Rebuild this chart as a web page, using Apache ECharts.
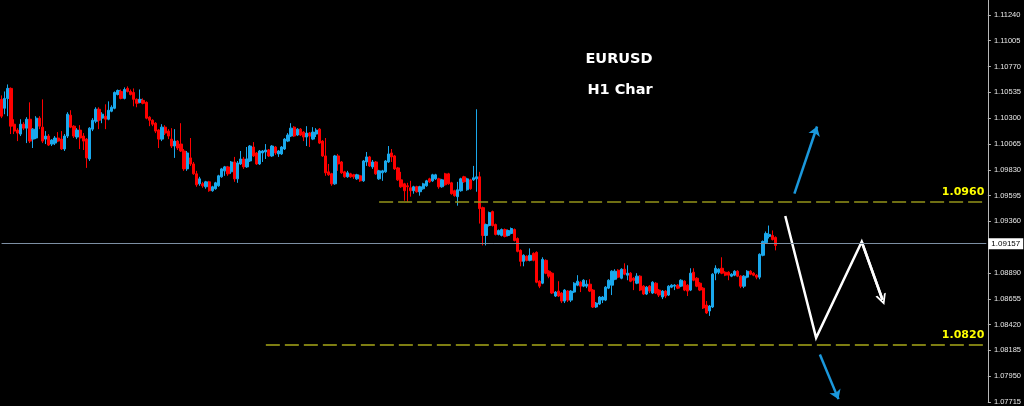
<!DOCTYPE html>
<html><head><meta charset="utf-8">
<script src="https://cdn.jsdelivr.net/npm/echarts/dist/echarts.min.js"></script>
<style>html,body{margin:0;padding:0;background:#000;}#c{width:1024px;height:406px;}</style>
</head><body><div id="c"></div>
<script>
// ---- data (EURUSD H1) ----
const open = [
1.10471,1.10390,1.10480,1.10571,1.10245,1.10191,1.10155,1.10245,1.10209,1.10290,
1.10109,1.10119,1.10300,1.10218,1.10109,1.10137,1.10064,1.10073,1.10119,1.10109,
1.10019,1.10137,1.10327,1.10227,1.10128,1.10191,1.10137,1.10109,1.09928,1.10200,
1.10272,1.10381,1.10300,1.10318,1.10290,1.10363,1.10390,1.10516,1.10543,1.10480,
1.10571,1.10543,1.10534,1.10471,1.10444,1.10462,1.10444,1.10309,1.10281,1.10254,
1.10191,1.10109,1.10218,1.10182,1.10109,1.10046,1.10091,1.10064,1.10001,1.09838,
1.09938,1.09883,1.09793,1.09702,1.09702,1.09675,1.09720,1.09639,1.09657,1.09684,
1.09766,1.09820,1.09856,1.09811,1.09901,1.09747,1.09883,1.09928,1.09856,1.09910,
1.10037,1.09983,1.09883,1.09983,1.09992,1.10010,1.09956,1.10037,1.09974,1.09974,
1.10019,1.10091,1.10137,1.10218,1.10146,1.10200,1.10173,1.10128,1.10164,1.10109,
1.10155,1.10200,1.10091,1.09956,1.09811,1.09793,1.09702,1.09956,1.09901,1.09811,
1.09766,1.09793,1.09784,1.09747,1.09775,1.09729,1.09901,1.09947,1.09856,1.09901,
1.09747,1.09802,1.09811,1.09901,1.09983,1.09956,1.09847,1.09738,1.09702,1.09684,
1.09666,1.09639,1.09675,1.09630,1.09657,1.09684,1.09747,1.09729,1.09747,1.09747,
1.09675,1.09793,1.09793,1.09711,1.09639,1.09585,1.09639,1.09766,1.09648,1.09738,
1.09738,1.09747,1.09766,1.09485,1.09232,1.09322,1.09449,1.09331,1.09241,1.09232,
1.09286,1.09232,1.09250,1.09286,1.09204,1.09096,1.08996,1.09042,1.09005,1.09069,
1.09078,1.08815,1.08797,1.09005,1.08906,1.08888,1.08680,1.08725,1.08707,1.08634,
1.08725,1.08643,1.08716,1.08779,1.08806,1.08770,1.08770,1.08788,1.08734,1.08580,
1.08607,1.08643,1.08643,1.08752,1.08779,1.08833,1.08915,1.08842,1.08924,1.08870,
1.08888,1.08842,1.08797,1.08861,1.08770,1.08698,1.08770,1.08707,1.08797,1.08734,
1.08671,1.08725,1.08689,1.08761,1.08770,1.08779,1.08770,1.08815,1.08779,1.08734,
1.08897,1.08842,1.08797,1.08752,1.08598,1.08544,1.08580,1.08888,1.08897,1.08933,
1.08897,1.08897,1.08861,1.08870,1.08906,1.08861,1.08770,1.08852,1.08906,1.08888,
1.08870,1.08852,1.09051,1.09168,1.09223,1.09232,1.09214];
const close = [
1.10318,1.10480,1.10571,1.10227,1.10182,1.10164,1.10245,1.10209,1.10290,1.10091,
1.10200,1.10300,1.10227,1.10091,1.10137,1.10055,1.10100,1.10119,1.10091,1.10019,
1.10137,1.10336,1.10218,1.10137,1.10191,1.10119,1.10091,1.09938,1.10209,1.10281,
1.10381,1.10281,1.10336,1.10290,1.10372,1.10399,1.10534,1.10552,1.10480,1.10561,
1.10543,1.10516,1.10471,1.10435,1.10471,1.10435,1.10300,1.10281,1.10245,1.10182,
1.10109,1.10218,1.10164,1.10137,1.10046,1.10091,1.10028,1.10001,1.09838,1.09983,
1.09883,1.09793,1.09693,1.09747,1.09684,1.09720,1.09639,1.09675,1.09711,1.09775,
1.09838,1.09856,1.09793,1.09901,1.09747,1.09892,1.09928,1.09856,1.09928,1.10046,
1.09956,1.09883,1.10001,1.10001,1.10010,1.09956,1.10046,1.09983,1.10001,1.10037,
1.10109,1.10146,1.10209,1.10137,1.10200,1.10146,1.10128,1.10164,1.10137,1.10173,
1.10191,1.10073,1.09956,1.09802,1.09784,1.09702,1.09956,1.09883,1.09802,1.09766,
1.09802,1.09766,1.09766,1.09784,1.09729,1.09910,1.09947,1.09865,1.09901,1.09793,
1.09820,1.09820,1.09910,1.09974,1.09947,1.09838,1.09738,1.09675,1.09639,1.09675,
1.09639,1.09675,1.09630,1.09675,1.09702,1.09729,1.09720,1.09784,1.09784,1.09675,
1.09738,1.09693,1.09702,1.09612,1.09594,1.09648,1.09747,1.09720,1.09747,1.09657,
1.09757,1.09766,1.09476,1.09232,1.09331,1.09440,1.09322,1.09241,1.09277,1.09286,
1.09223,1.09277,1.09295,1.09186,1.09087,1.08996,1.09051,1.09005,1.09051,1.09005,
1.08806,1.08770,1.09014,1.08888,1.08861,1.08707,1.08716,1.08680,1.08634,1.08734,
1.08643,1.08725,1.08797,1.08815,1.08770,1.08824,1.08788,1.08725,1.08580,1.08616,
1.08671,1.08671,1.08761,1.08824,1.08906,1.08906,1.08852,1.08924,1.08879,1.08888,
1.08815,1.08824,1.08861,1.08734,1.08698,1.08761,1.08725,1.08806,1.08707,1.08689,
1.08725,1.08680,1.08770,1.08779,1.08779,1.08752,1.08824,1.08734,1.08725,1.08888,
1.08824,1.08770,1.08734,1.08571,1.08526,1.08589,1.08879,1.08933,1.08924,1.08888,
1.08870,1.08870,1.08879,1.08906,1.08861,1.08770,1.08861,1.08906,1.08879,1.08870,
1.08852,1.09060,1.09177,1.09250,1.09241,1.09195,1.09141];
const low = [
1.10300,1.10336,1.10318,1.10155,1.10155,1.10091,1.10137,1.10191,1.10073,1.10073,
1.10028,1.10109,1.10200,1.10073,1.10064,1.10046,1.10046,1.10055,1.10082,1.10010,
1.10001,1.10119,1.10209,1.10119,1.10109,1.10019,1.10010,1.09847,1.09910,1.10182,
1.10254,1.10200,1.10254,1.10200,1.10281,1.10354,1.10381,1.10507,1.10471,1.10471,
1.10534,1.10507,1.10408,1.10399,1.10435,1.10426,1.10290,1.10227,1.10227,1.10164,
1.10028,1.10091,1.10146,1.10109,1.10028,1.09938,1.10010,1.09992,1.09820,1.09820,
1.09865,1.09784,1.09675,1.09684,1.09666,1.09657,1.09630,1.09630,1.09648,1.09675,
1.09757,1.09775,1.09775,1.09793,1.09720,1.09711,1.09874,1.09838,1.09847,1.09901,
1.09947,1.09874,1.09874,1.09901,1.09928,1.09947,1.09947,1.09965,1.09947,1.09965,
1.10010,1.10082,1.10128,1.10128,1.10137,1.10137,1.10091,1.10046,1.10037,1.10100,
1.10128,1.10064,1.09947,1.09775,1.09775,1.09684,1.09693,1.09820,1.09793,1.09757,
1.09757,1.09757,1.09747,1.09738,1.09720,1.09720,1.09865,1.09856,1.09838,1.09784,
1.09738,1.09729,1.09802,1.09892,1.09901,1.09829,1.09729,1.09666,1.09548,1.09539,
1.09585,1.09612,1.09621,1.09594,1.09648,1.09675,1.09711,1.09720,1.09738,1.09657,
1.09666,1.09684,1.09693,1.09603,1.09585,1.09503,1.09630,1.09711,1.09639,1.09648,
1.09729,1.09630,1.09340,1.09141,1.09141,1.09313,1.09313,1.09232,1.09232,1.09223,
1.09214,1.09223,1.09241,1.09177,1.09078,1.08951,1.08951,1.08996,1.08996,1.08996,
1.08797,1.08752,1.08788,1.08879,1.08842,1.08698,1.08671,1.08671,1.08616,1.08616,
1.08625,1.08625,1.08707,1.08770,1.08716,1.08761,1.08752,1.08716,1.08571,1.08571,
1.08598,1.08616,1.08634,1.08743,1.08689,1.08824,1.08842,1.08833,1.08870,1.08824,
1.08806,1.08734,1.08788,1.08725,1.08689,1.08689,1.08707,1.08698,1.08698,1.08671,
1.08652,1.08661,1.08680,1.08752,1.08734,1.08743,1.08761,1.08725,1.08680,1.08725,
1.08815,1.08761,1.08725,1.08562,1.08517,1.08499,1.08571,1.08824,1.08879,1.08879,
1.08861,1.08824,1.08852,1.08861,1.08852,1.08752,1.08752,1.08842,1.08870,1.08861,
1.08833,1.08833,1.09042,1.09159,1.09204,1.09186,1.09096];
const high = [
1.10507,1.10543,1.10607,1.10580,1.10290,1.10209,1.10290,1.10263,1.10309,1.10444,
1.10209,1.10318,1.10318,1.10471,1.10182,1.10155,1.10109,1.10137,1.10173,1.10182,
1.10155,1.10354,1.10372,1.10236,1.10209,1.10236,1.10164,1.10119,1.10218,1.10300,
1.10399,1.10399,1.10354,1.10426,1.10453,1.10417,1.10543,1.10561,1.10561,1.10580,
1.10589,1.10561,1.10571,1.10480,1.10561,1.10480,1.10453,1.10318,1.10290,1.10263,
1.10200,1.10245,1.10236,1.10200,1.10209,1.10200,1.10100,1.10254,1.10019,1.10001,
1.10119,1.09901,1.09820,1.09766,1.09720,1.09729,1.09729,1.09684,1.09720,1.09784,
1.09847,1.09865,1.09865,1.09910,1.09947,1.09910,1.10001,1.09947,1.10037,1.10055,
1.10082,1.09992,1.10010,1.10010,1.10064,1.10019,1.10055,1.10046,1.10010,1.10046,
1.10119,1.10164,1.10254,1.10227,1.10209,1.10209,1.10182,1.10227,1.10173,1.10218,
1.10209,1.10209,1.10100,1.10119,1.09883,1.09802,1.09965,1.09974,1.09910,1.09820,
1.09820,1.09802,1.09793,1.09793,1.09784,1.09919,1.09992,1.09956,1.09919,1.09910,
1.09829,1.09829,1.09919,1.10046,1.10019,1.09965,1.09856,1.09811,1.09711,1.09711,
1.09729,1.09684,1.09684,1.09684,1.09711,1.09738,1.09757,1.09793,1.09793,1.09757,
1.09747,1.09802,1.09802,1.09720,1.09648,1.09720,1.09757,1.09775,1.09757,1.09747,
1.09865,1.10381,1.09811,1.09494,1.09340,1.09449,1.09458,1.09340,1.09286,1.09295,
1.09295,1.09286,1.09304,1.09295,1.09214,1.09105,1.09060,1.09051,1.09114,1.09078,
1.09087,1.08824,1.09033,1.09014,1.08915,1.08897,1.08725,1.08815,1.08716,1.08743,
1.08734,1.08734,1.08806,1.08870,1.08815,1.08833,1.08824,1.08833,1.08743,1.08625,
1.08680,1.08680,1.08770,1.08833,1.08915,1.08924,1.08924,1.08933,1.08978,1.08960,
1.08897,1.08852,1.08888,1.08870,1.08779,1.08770,1.08779,1.08815,1.08806,1.08743,
1.08734,1.08734,1.08779,1.08788,1.08788,1.08788,1.08833,1.08824,1.08788,1.08933,
1.08933,1.08852,1.08806,1.08761,1.08634,1.08598,1.08888,1.08960,1.08933,1.09033,
1.08906,1.08906,1.08888,1.08915,1.08915,1.08870,1.08870,1.08915,1.08915,1.08897,
1.08879,1.09069,1.09186,1.09268,1.09322,1.09277,1.09223];

const totalSlots = 314;            // bars shown plus empty future space on the chart
const tickLabels = ['1.11240','1.11005','1.10770','1.10535','1.10300','1.10065','1.09830',
  '1.09595','1.09360','1.08890','1.08655','1.08420','1.08185','1.07950','1.07715'];
const lastPrice = 1.09157;
const levelValues = [1.09542, 1.08236];
const levelLabels = ['1.0960', '1.0820'];
const levelStartBar = [120, 84];
const titleLines = ['EURUSD', 'H1 Char'];
// drawn scenario arrows: [bar position, price]
const arrowUp = [[252.0, 1.09612], [259.2, 1.10224]];
const arrowDown = [[260.1, 1.08148], [266.0, 1.07741]];
const zigzag = [[249.1, 1.09409], [258.9, 1.08299], [273.4, 1.09174], [280.0, 1.08646]];

// ---- build ----
const categories = Array.from({length: totalSlots}, (_, i) => String(i + 1));
const candles = open.map((o, i) => [o, close[i], low[i], high[i]]);
const tickValues = tickLabels.map(Number);
const chevron = 'path://M0,10 L5,0 L10,10 L8.2,10 L5,3.6 L1.8,10 Z';

const chart = echarts.init(document.getElementById('c'), null, {renderer: 'canvas'});
const levelLine = (k, color) => [
  {coord: [levelStartBar[k], levelValues[k]],
   lineStyle: {color: color, type: [14, 5], width: 1.6},
   label: {show: true, position: 'insideEndTop', formatter: levelLabels[k], color: '#ffff00',
     fontWeight: 'bold', fontSize: 11, fontFamily: 'DejaVu Sans', distance: [2, 4]}},
  {coord: [totalSlots - 1, levelValues[k]]}
];
chart.setOption({
  animation: false,
  backgroundColor: '#000000',
  grid: {left: -1.3, top: 0, width: 990.4, bottom: 0, containLabel: false},
  xAxis: [
    {type: 'category', data: categories, show: false, boundaryGap: true},
    {type: 'value', min: -0.5, max: totalSlots - 0.5, show: false}
  ],
  yAxis: {
    type: 'value', position: 'right', min: 1.0771, max: 1.11376,
    axisLine: {show: true, onZero: false, lineStyle: {color: '#b8b8b8', width: 1}},
    axisTick: {show: true, length: 3, customValues: tickValues, lineStyle: {color: '#b8b8b8'}},
    axisLabel: {customValues: tickValues, formatter: v => v.toFixed(5), color: '#e8e8e8',
      fontSize: 7.5, fontFamily: 'Liberation Sans', margin: 6},
    splitLine: {show: false}
  },
  graphic: [
    {type: 'text', x: 619, y: 59, style: {text: titleLines[0], align: 'center', verticalAlign: 'middle',
      fill: '#ffffff', font: 'bold 14.5px "DejaVu Sans"'}},
    {type: 'text', x: 620, y: 90, style: {text: titleLines[1], align: 'center', verticalAlign: 'middle',
      fill: '#ffffff', font: 'bold 14.5px "DejaVu Sans"'}}
  ],
  series: [
    {
      type: 'candlestick', xAxisIndex: 0, yAxisIndex: 0, data: candles,
      barWidth: 2.8,
      itemStyle: {color: '#1aa8ec', color0: '#ff0000', borderColor: '#1aa8ec', borderColor0: '#ff0000', borderWidth: 1},
      markLine: {
        silent: true, symbol: ['none', 'none'], animation: false,
        data: [
          [{coord: [0, lastPrice], lineStyle: {color: '#7d8fa3', type: 'solid', width: 1},
            label: {show: true, position: 'end', formatter: lastPrice.toFixed(5), backgroundColor: '#ffffff',
              color: '#000000', fontSize: 8, fontFamily: 'Liberation Sans', padding: [2, 3, 1, 3], distance: 2}},
           {coord: [totalSlots - 1, lastPrice]}],
          levelLine(0, '#94941a'),
          levelLine(1, '#a8a818')
        ]
      }
    },
    {
      type: 'lines', coordinateSystem: 'cartesian2d', xAxisIndex: 1, yAxisIndex: 0,
      symbol: ['none', 'arrow'], symbolSize: [0, 9],
      lineStyle: {color: '#1b98dc', width: 2.5, opacity: 1},
      data: [{coords: arrowUp}, {coords: arrowDown}]
    },
    {
      type: 'lines', coordinateSystem: 'cartesian2d', xAxisIndex: 1, yAxisIndex: 0, polyline: true,
      lineStyle: {color: '#ffffff', width: 2.5, opacity: 1},
      data: [{coords: zigzag}]
    },
    {
      type: 'lines', coordinateSystem: 'cartesian2d', xAxisIndex: 1, yAxisIndex: 0,
      symbol: ['none', chevron], symbolSize: [0, 11],
      lineStyle: {color: '#ffffff', width: 2.5, opacity: 1},
      data: [{coords: zigzag.slice(2)}]
    }
  ]
});
</script></body></html>
